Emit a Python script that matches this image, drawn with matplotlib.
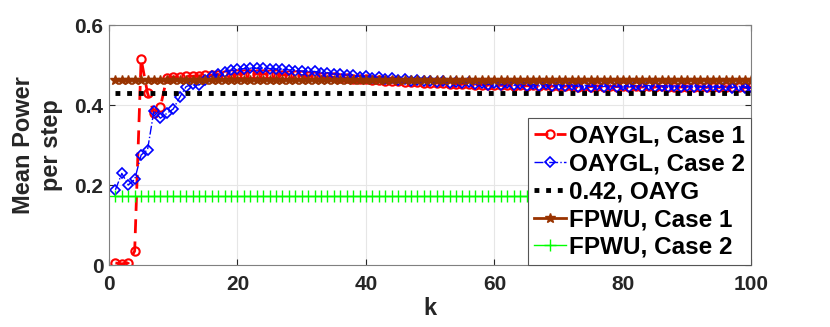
import numpy as np
import matplotlib
matplotlib.use('Agg')
import matplotlib.pyplot as plt

plt.rcParams['font.family'] = ['Liberation Sans', 'DejaVu Sans']
plt.rcParams['font.weight'] = 'bold'

k = np.arange(1, 101)

# OAYGL, Case 1
oaygl_1 = [0.005, 0.003, 0.005, 0.035, 0.515, 0.430, 0.380, 0.395, 0.468, 0.470,
           0.471, 0.472, 0.472, 0.473, 0.474, 0.475, 0.476, 0.476, 0.477, 0.477,
           0.478, 0.478, 0.478, 0.478, 0.477, 0.477, 0.476, 0.476, 0.475, 0.474,
           0.473, 0.472, 0.471, 0.470, 0.469, 0.468, 0.467, 0.466, 0.465, 0.464,
           0.463, 0.462, 0.461, 0.460, 0.459, 0.458, 0.457, 0.457, 0.456, 0.455,
           0.455, 0.454, 0.453, 0.453, 0.452, 0.452, 0.451, 0.451, 0.450, 0.450,
           0.449, 0.450, 0.448, 0.449, 0.448, 0.449, 0.447, 0.449, 0.447, 0.448,
           0.447, 0.448, 0.446, 0.448, 0.446, 0.448, 0.446, 0.447, 0.446, 0.447,
           0.445, 0.447, 0.445, 0.447, 0.445, 0.447, 0.445, 0.446, 0.445, 0.446,
           0.444, 0.446, 0.444, 0.446, 0.444, 0.446, 0.444, 0.445, 0.444, 0.444]

# OAYGL, Case 2
oaygl_2 = [0.188, 0.229, 0.200, 0.214, 0.275, 0.288, 0.386, 0.367, 0.379, 0.390,
           0.419, 0.446, 0.452, 0.450, 0.462, 0.472, 0.478, 0.483, 0.487, 0.489,
           0.491, 0.492, 0.492, 0.492, 0.491, 0.490, 0.489, 0.488, 0.486, 0.485,
           0.483, 0.484, 0.480, 0.481, 0.477, 0.478, 0.474, 0.475, 0.471, 0.472,
           0.468, 0.469, 0.466, 0.467, 0.463, 0.465, 0.461, 0.463, 0.459, 0.461,
           0.457, 0.459, 0.455, 0.458, 0.454, 0.457, 0.452, 0.456, 0.451, 0.455,
           0.450, 0.454, 0.449, 0.453, 0.448, 0.452, 0.448, 0.452, 0.447, 0.451,
           0.447, 0.451, 0.446, 0.450, 0.446, 0.450, 0.446, 0.450, 0.445, 0.449,
           0.445, 0.449, 0.445, 0.449, 0.445, 0.448, 0.444, 0.448, 0.444, 0.448,
           0.444, 0.447, 0.444, 0.447, 0.444, 0.447, 0.443, 0.447, 0.443, 0.444]

oayg = [0.43] * 100
fpwu_1 = [0.4625] * 100
fpwu_2 = [0.172] * 100

labels = ['OAYGL, Case 1', 'OAYGL, Case 2', '0.42, OAYG', 'FPWU, Case 1', 'FPWU, Case 2']

fig = plt.figure(figsize=(8.3, 3.27), dpi=100)
ax = fig.add_axes([0.1313, 0.1896, 0.7741, 0.7339])

ax.plot(k, oaygl_1, '--o', color='red', mfc='none', ms=6, lw=2, mew=1.5, dashes=(5, 3), label=labels[0])
ax.plot(k, oaygl_2, '-.D', color='blue', mfc='none', ms=5, lw=1, mew=1.2, label=labels[1])
ax.plot(k, oayg, ':', color='black', lw=3.5, dashes=(1, 1.4), label=labels[2])
ax.plot(k, fpwu_1, '-*', color='#993300', ms=7, lw=2, label=labels[3])
ax.plot(k, fpwu_2, '-+', color='#00ff00', ms=8, lw=1, label=labels[4])

ax.set_xlim(0, 100)
ax.set_ylim(0, 0.6)
ax.set_xticks([0, 20, 40, 60, 80, 100])
ax.set_yticks([0, 0.2, 0.4, 0.6])
ax.set_yticklabels(['0', '0.2', '0.4', '0.6'])
ax.grid(True, color='#e6e6e6', lw=0.8)
ax.set_axisbelow(True)
ax.tick_params(direction='in', top=True, right=True, labelsize=15, colors='#262626', length=4)
ax.tick_params(axis='x', pad=7)
ax.tick_params(axis='y', pad=4)
for tl in ax.get_xticklabels() + ax.get_yticklabels():
    tl.set_fontweight('bold')
for s in ax.spines.values():
    s.set_color('#808080')

ax.set_xlabel('k', fontsize=17, fontweight='bold', color='#262626', labelpad=2)
ax.set_ylabel('Mean Power\nper step', fontsize=17, fontweight='bold', color='#262626',
              labelpad=8, linespacing=1.3, multialignment='center')

leg = ax.legend(loc='lower right', borderaxespad=0, prop={'weight': 'bold', 'size': 17.5},
                handlelength=1.3, handletextpad=0.15, labelspacing=0.2, borderpad=0.25,
                fancybox=False, framealpha=1, edgecolor='#555555')
leg.get_frame().set_linewidth(0.8)

fig.savefig('out.png', dpi=100)
